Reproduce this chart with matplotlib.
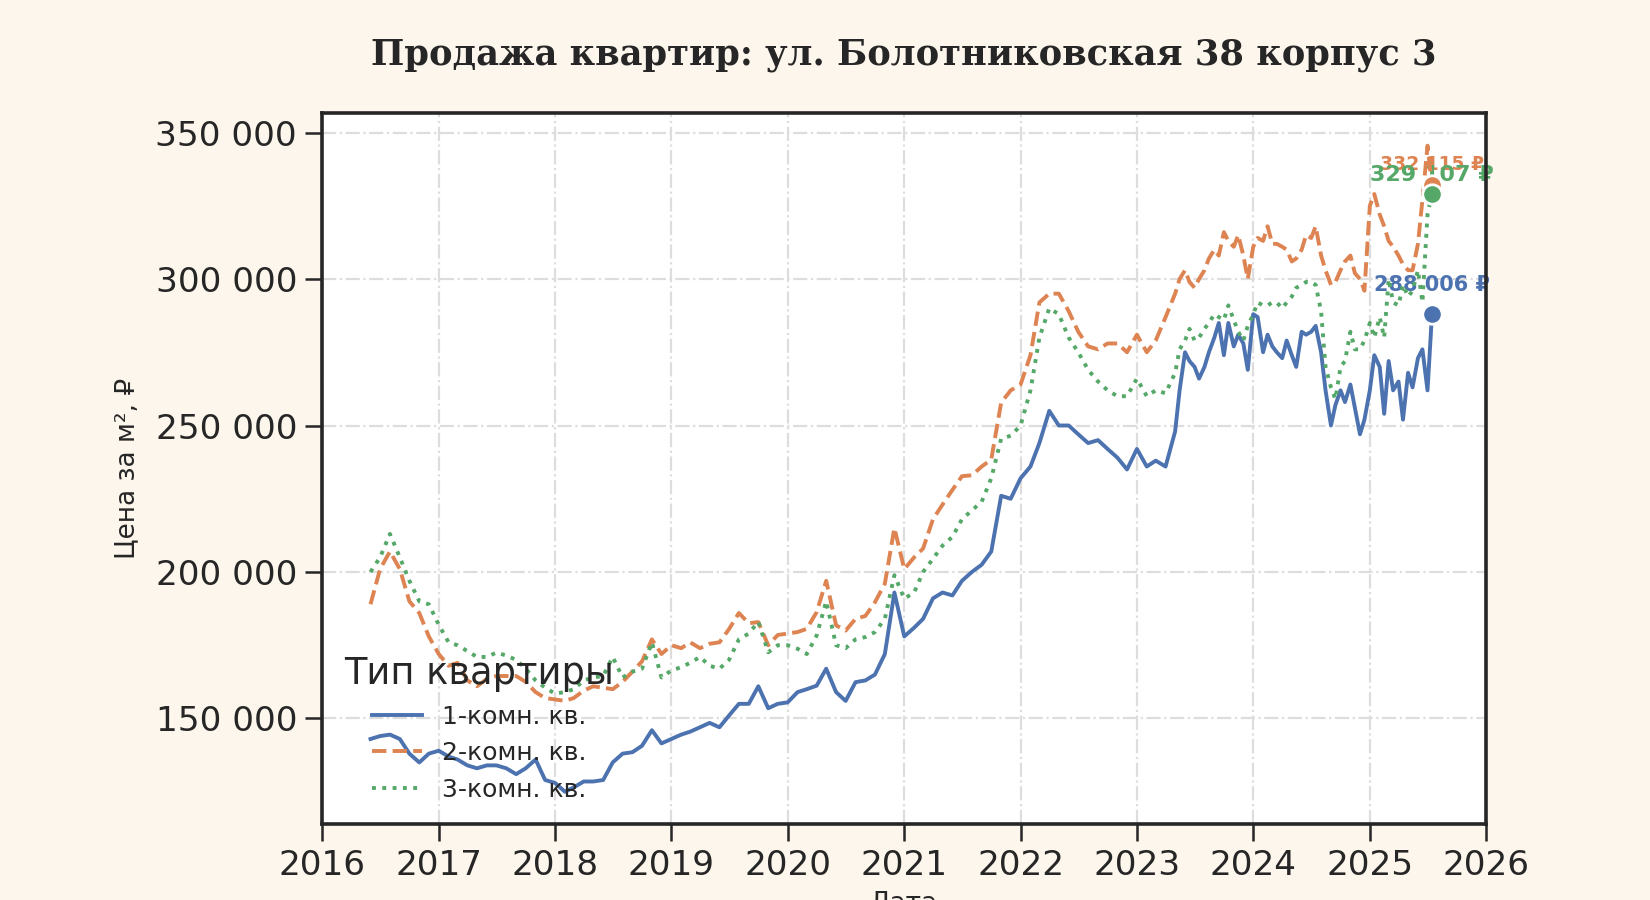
import numpy as np
import pandas as pd
import matplotlib
matplotlib.use("Agg")
import matplotlib.pyplot as plt
import matplotlib.dates as mdates
from matplotlib.ticker import FuncFormatter

# monthly points up to April 2023, then twice a month
dates_monthly = pd.date_range("2016-06-01", "2023-04-01", freq="MS")
dates_semi = pd.date_range("2023-05-01", "2025-07-15", freq="SMS")
dates = dates_monthly.append(dates_semi)

# 1-room, thousands of rub per m2
room1 = [143, 144, 144.5, 143, 138, 135, 138,
         139, 137, 136, 134, 133, 134, 134, 133, 131, 133, 136, 129,
         128, 125, 126.5, 128.5, 128.5, 129, 135, 138, 138.5, 140.7, 146, 141.5,
         143, 144.5, 145.5, 147, 148.5, 147, 151, 155, 155, 161, 153.5, 155,
         155.5, 159, 160, 161.2, 167, 159, 156, 162.4, 163, 165, 172, 193,
         178, 181, 184, 191, 193, 192, 197, 200, 202.5, 207, 226, 225,
         232, 236, 244, 255, 250, 250, 247, 244, 245, 242, 239, 235,
         242, 236, 238, 236,
         248, 262, 275, 272, 270, 266, 270, 275, 280, 285,
         274, 285, 277, 281, 278, 269, 288, 287, 275, 281,
         277, 275, 273, 279, 274, 270, 282, 281, 282, 284,
         275, 262, 250, 257, 262, 258, 264, 256, 247, 252,
         262, 274, 270, 254, 272, 262, 265, 252, 268, 263,
         273, 276, 262, 288.006]

room2 = [189, 201, 207, 201, 190, 186, 178,
         172, 168, 169, 163, 161, 163.5, 164.5, 164.5, 164.5, 162.5, 159, 157,
         156.5, 156, 157, 159.5, 161, 160.5, 160, 162.5, 166, 169.5, 177, 172,
         175, 174, 176, 174, 175.5, 176, 180.5, 186, 182.5, 182.9, 175, 178.5,
         179, 179.5, 180.6, 186.3, 197, 181.8, 180, 184, 185, 189.7, 196, 215,
         201, 205, 208, 218, 223, 228, 232.7, 233, 236, 238.4, 257.8, 262,
         264, 274, 292, 295, 295, 289, 282, 277, 276, 278, 278, 275,
         281, 275, 279, 287,
         295, 300, 303, 299, 297, 300, 303, 307, 310, 308,
         316, 313, 311, 315, 308, 300, 311, 314, 313, 318,
         312, 312, 311, 310, 306, 307, 310, 315, 314, 318,
         308, 303, 298, 299, 303, 306, 308, 302, 300, 296,
         325, 329, 322, 318, 313, 311, 308, 305, 303, 303,
         312, 327, 345.5, 332.115]

room3 = [200, 205, 213, 205, 197, 190, 189,
         182, 176, 175, 173, 171, 171, 172.5, 171.5, 170, 167, 163, 160.5,
         158.5, 159, 160, 163, 164, 164.5, 171, 164, 166, 167, 176, 164,
         166.4, 167.5, 169, 171, 168, 167, 170, 177, 179, 183, 172.6, 175,
         175, 173.8, 172, 178.3, 190, 175, 174, 177, 177.8, 179.5, 184, 198.9,
         190.9, 193, 200, 204.5, 209, 212, 218, 221, 224, 232, 245.5, 246.5,
         250, 262, 280, 290, 288, 280, 275, 269, 265, 262, 260, 260,
         266, 260, 262, 261,
         268, 276, 279, 283, 279, 280, 283, 285, 288, 287,
         286, 291, 286, 282, 279, 284, 288, 292, 291, 291,
         292, 292, 290, 292, 294, 297, 298, 299, 299, 298,
         289, 270, 263, 259, 270, 272, 282, 276, 276, 279,
         285, 280, 287, 280, 300, 292, 291, 298, 294, 296,
         303, 292, 322, 329.107]

labels = ["1-комн. кв.", "2-комн. кв.", "3-комн. кв."]
colors = ["#4c72b0", "#dd8452", "#55a868"]
styles = ["-", "--", ":"]
series = [np.array(room1) * 1000, np.array(room2) * 1000, np.array(room3) * 1000]
txt_size = [15, 13.5, 16]
txt_off = [21, 15, 13.5]

fig = plt.figure(figsize=(16.5, 9), dpi=100, facecolor="#fdf6ec")
ax = fig.add_axes([0.1952, 0.0844, 0.7055, 0.7896])
ax.set_facecolor("white")

for vals, lab, c, ls in zip(series, labels, colors, styles):
    ax.plot(dates, vals, ls, color=c, lw=2.8, label=lab, zorder=2)

for vals, c, fs, off in zip(series, colors, txt_size, txt_off):
    ax.plot(dates[-1], vals[-1], "o", ms=14, color=c, mec="white", mew=2, zorder=4)
    ax.annotate(f"{vals[-1]:,.0f} ₽".replace(",", " "), (dates[-1], vals[-1]),
                xytext=(0, off), textcoords="offset points", ha="center", va="center",
                color=c, fontsize=fs, fontweight="bold", zorder=1)

ax.set_xlim(pd.Timestamp("2016-01-01"), pd.Timestamp("2026-01-01"))
ax.xaxis.set_major_locator(mdates.YearLocator())
ax.xaxis.set_major_formatter(mdates.DateFormatter("%Y"))
ax.yaxis.set_major_formatter(FuncFormatter(lambda v, p: f"{v:,.0f}".replace(",", " ")))

ax.grid(True, linestyle="-.", color="#dddddd", linewidth=1.6, zorder=0)
ax.set_axisbelow(True)
for s in ax.spines.values():
    s.set_linewidth(2.6)
    s.set_color("#262626")
ax.tick_params(axis="both", length=12, width=1.8, labelsize=24.7, pad=6,
               color="#262626", labelcolor="#262626")

ax.set_ylabel("Цена за м², ₽", fontsize=19, labelpad=11, color="#262626")
ax.set_xlabel("Дата", fontsize=19, labelpad=6, color="#262626")

leg = ax.legend(title="Тип квартиры", loc="lower left", frameon=False,
                fontsize=18, title_fontsize=26.5)
for t in leg.get_texts():
    t.set_color("#262626")
leg.get_title().set_color("#262626")

fig.text(0.5479, 0.939, "Продажа квартир: ул. Болотниковская 38 корпус 3",
         ha="center", va="center", family="DejaVu Serif", fontweight="bold",
         fontsize=25.4, color="#262626")

fig.savefig("out.png", dpi=100, facecolor=fig.get_facecolor())
